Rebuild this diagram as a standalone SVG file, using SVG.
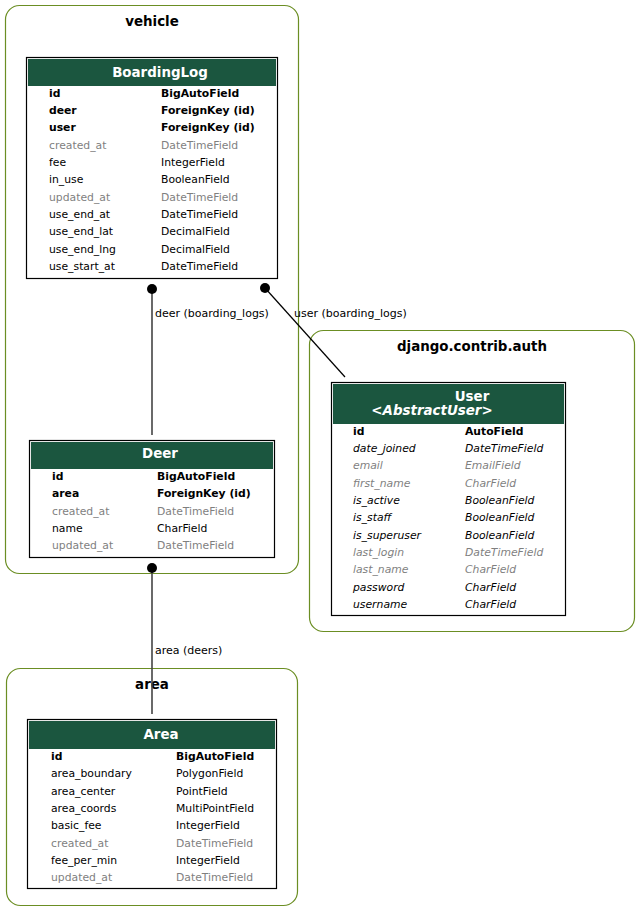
<svg xmlns="http://www.w3.org/2000/svg" width="640" height="911" viewBox="0 0 640 911">
<style>
text{font-family:"DejaVu Sans",sans-serif;font-size:10.8px;fill:#000}
.cl{fill:none;stroke:#6b8e23;stroke-width:1.2}
.ct{font-size:13.4px;font-weight:bold;text-anchor:middle}
.tb{fill:#fff;stroke:#000;stroke-width:1.2}
.hd{fill:#1b563f}
.ht{fill:#fff;font-size:13.4px;font-weight:bold;text-anchor:middle}
.b{font-weight:bold}
.g{fill:#7f7f7f}
.i{font-style:italic}
.e{stroke:#444;stroke-width:1.6;fill:none}
.e2{stroke:#000;stroke-width:1.2;fill:none}
.lb{font-size:11px}
</style>
<rect x="0" y="0" width="640" height="911" fill="#fff"/>
<g id="cluster_vehicle">
<rect class="cl" x="5.5" y="5.5" width="293" height="568" rx="14"/>
<text class="ct" x="152" y="26">vehicle</text>
</g>
<g id="cluster_auth">
<rect class="cl" x="309.5" y="330.5" width="325" height="301" rx="14"/>
<text class="ct" x="472" y="351">django.contrib.auth</text>
</g>
<g id="cluster_area">
<rect class="cl" x="6.5" y="668.5" width="291" height="237" rx="14"/>
<text class="ct" x="152" y="689">area</text>
</g>
<g id="BoardingLog">
<rect class="tb" x="26.5" y="57.5" width="251" height="221"/>
<rect class="hd" x="28" y="59" width="248" height="27"/>
<text class="ht" x="160" y="77">BoardingLog</text>
<text class="b" x="49" y="97">id</text><text class="b" x="161" y="97">BigAutoField</text>
<text class="b" x="49" y="114">deer</text><text class="b" x="161" y="114">ForeignKey (id)</text>
<text class="b" x="49" y="131">user</text><text class="b" x="161" y="131">ForeignKey (id)</text>
<text class="g" x="49" y="149">created_at</text><text class="g" x="161" y="149">DateTimeField</text>
<text x="49" y="166">fee</text><text x="161" y="166">IntegerField</text>
<text x="49" y="183">in_use</text><text x="161" y="183">BooleanField</text>
<text class="g" x="49" y="201">updated_at</text><text class="g" x="161" y="201">DateTimeField</text>
<text x="49" y="218">use_end_at</text><text x="161" y="218">DateTimeField</text>
<text x="49" y="235">use_end_lat</text><text x="161" y="235">DecimalField</text>
<text x="49" y="253">use_end_lng</text><text x="161" y="253">DecimalField</text>
<text x="49" y="270">use_start_at</text><text x="161" y="270">DateTimeField</text>
</g>
<g id="Deer">
<rect class="tb" x="29.5" y="440.5" width="245" height="117"/>
<rect class="hd" x="31" y="442" width="242" height="27"/>
<text class="ht" x="160" y="458">Deer</text>
<text class="b" x="52" y="480">id</text><text class="b" x="157" y="480">BigAutoField</text>
<text class="b" x="52" y="497">area</text><text class="b" x="157" y="497">ForeignKey (id)</text>
<text class="g" x="52" y="515">created_at</text><text class="g" x="157" y="515">DateTimeField</text>
<text x="52" y="532">name</text><text x="157" y="532">CharField</text>
<text class="g" x="52" y="549">updated_at</text><text class="g" x="157" y="549">DateTimeField</text>
</g>
<g id="User">
<rect class="tb" x="331.5" y="382.5" width="234" height="233"/>
<rect class="hd" x="333" y="384" width="231" height="40"/>
<text class="ht" x="472" y="401">User</text>
<text class="ht i" x="432" y="415">&lt;AbstractUser&gt;</text>
<text class="b" x="353" y="435">id</text><text class="b" x="465" y="435">AutoField</text>
<text class="i" x="353" y="452">date_joined</text><text class="i" x="465" y="452">DateTimeField</text>
<text class="i g" x="353" y="469">email</text><text class="i g" x="465" y="469">EmailField</text>
<text class="i g" x="353" y="487">first_name</text><text class="i g" x="465" y="487">CharField</text>
<text class="i" x="353" y="504">is_active</text><text class="i" x="465" y="504">BooleanField</text>
<text class="i" x="353" y="521">is_staff</text><text class="i" x="465" y="521">BooleanField</text>
<text class="i" x="353" y="539">is_superuser</text><text class="i" x="465" y="539">BooleanField</text>
<text class="i g" x="353" y="556">last_login</text><text class="i g" x="465" y="556">DateTimeField</text>
<text class="i g" x="353" y="573">last_name</text><text class="i g" x="465" y="573">CharField</text>
<text class="i" x="353" y="591">password</text><text class="i" x="465" y="591">CharField</text>
<text class="i" x="353" y="608">username</text><text class="i" x="465" y="608">CharField</text>
</g>
<g id="Area">
<rect class="tb" x="27.5" y="719.5" width="249" height="169"/>
<rect class="hd" x="29" y="721" width="246" height="28"/>
<text class="ht" x="161" y="739">Area</text>
<text class="b" x="51" y="760">id</text><text class="b" x="176" y="760">BigAutoField</text>
<text x="51" y="777">area_boundary</text><text x="176" y="777">PolygonField</text>
<text x="51" y="795">area_center</text><text x="176" y="795">PointField</text>
<text x="51" y="812">area_coords</text><text x="176" y="812">MultiPointField</text>
<text x="51" y="829">basic_fee</text><text x="176" y="829">IntegerField</text>
<text class="g" x="51" y="847">created_at</text><text class="g" x="176" y="847">DateTimeField</text>
<text x="51" y="864">fee_per_min</text><text x="176" y="864">IntegerField</text>
<text class="g" x="51" y="881">updated_at</text><text class="g" x="176" y="881">DateTimeField</text>
</g>
<g id="connectors">
<line class="e" x1="152" y1="289" x2="152" y2="435"/>
<circle cx="152" cy="289" r="5"/>
<text class="lb" x="155" y="317">deer (boarding_logs)</text>
<line class="e2" x1="265" y1="288" x2="345" y2="377"/>
<circle cx="265" cy="288" r="5"/>
<text class="lb" x="294" y="317">user (boarding_logs)</text>
<line class="e" x1="152" y1="568" x2="152" y2="714"/>
<circle cx="152" cy="568" r="5"/>
<text class="lb" x="155" y="654">area (deers)</text>
</g>
</svg>
